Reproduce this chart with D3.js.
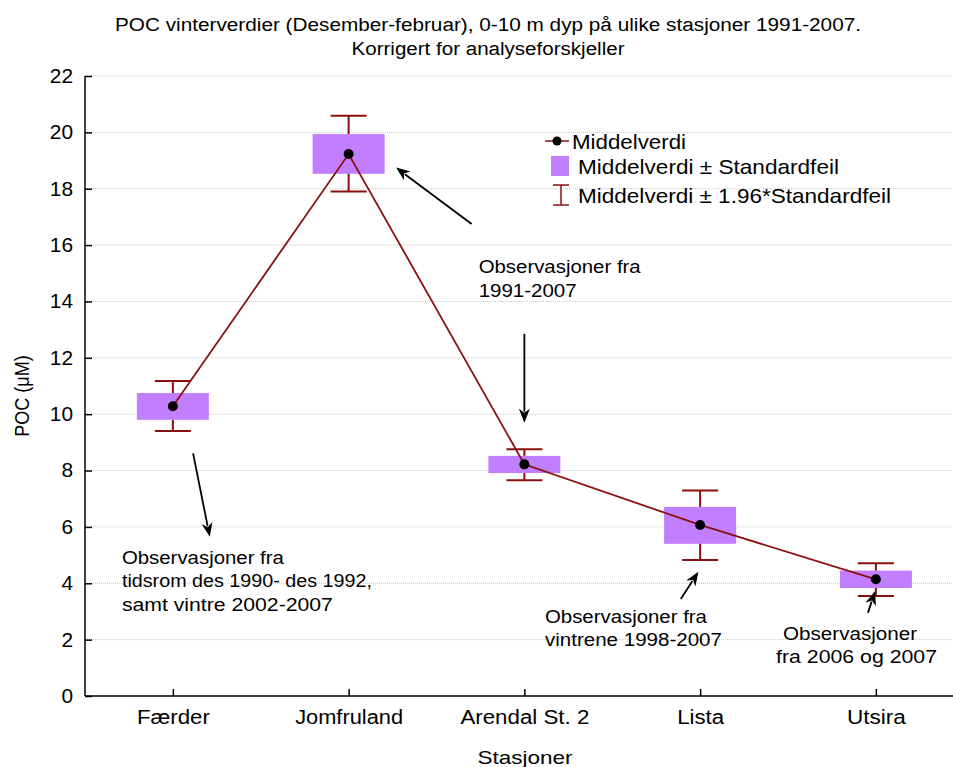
<!DOCTYPE html>
<html><head><meta charset="utf-8">
<script src="https://cdn.jsdelivr.net/npm/d3@7"></script>
<style>
body{margin:0;background:#fff;}
text{font-family:"Liberation Sans",Arial,sans-serif;fill:#000;}
</style></head>
<body><svg id="c" width="953" height="767"></svg>
<script>
const stations = ["Færder","Jomfruland","Arendal St. 2","Lista","Utsira"];
const means   = [10.28, 19.23, 8.22, 6.07, 4.14];
const seLow   = [9.80, 18.53, 7.91, 5.40, 3.83];
const seHigh  = [10.75, 19.94, 8.52, 6.71, 4.45];
const ciLow   = [9.40, 17.90, 7.66, 4.83, 3.55];
const ciHigh  = [11.18, 20.59, 8.76, 7.29, 4.71];
const yTicks  = [0,2,4,6,8,10,12,14,16,18,20,22];
const stationLabelWidths = [73, 108, 129, 47, 59];

// annotations in data coords (x as station index, y as value); w = rendered widths
const notes = [
  {lines:["Observasjoner fra","1991-2007"], w:[162,98], x:1.74, y:15.0},
  {lines:["Observasjoner fra","tidsrom des 1990- des 1992,","samt vintre 2002-2007"], w:[162,250,211], x:-0.29, y:4.7},
  {lines:["Observasjoner fra","vintrene 1998-2007"], w:[162,177], x:2.117, y:2.6},
  {lines:["Observasjoner","fra 2006 og 2007"], w:[134,161], x:3.432, y:2.0, dx:[7,0]}
];
const arrows = [
  {x1:1.70, y1:16.75, x2:1.27, y2:18.75},
  {x1:2.00, y1:12.85, x2:2.00, y2:9.70},
  {x1:0.115, y1:8.61, x2:0.21, y2:5.65},
  {x1:2.89, y1:3.44, x2:2.99, y2:4.41},
  {x1:3.955, y1:2.95, x2:3.995, y2:3.72}
];

const svg = d3.select("#c");
const pLeft = 85, pTop = 76, pBottom = 696, step = 175.75;
const x = d3.scaleLinear().domain([0,1]).range([pLeft+step/2, pLeft+step*1.5]);
const y = d3.scaleLinear().domain([0,22]).range([pBottom, pTop]);

function fit(sel, w){ sel.attr("textLength", w).attr("lengthAdjust","spacingAndGlyphs"); return sel; }

// gridlines
svg.append("g").selectAll("line").data(yTicks.filter(d=>d>0)).join("line")
  .attr("x1",pLeft).attr("x2",953).attr("y1",d=>y(d)).attr("y2",d=>y(d))
  .attr("stroke","#c8c8c8").attr("stroke-width",1).attr("stroke-dasharray","1,1");

// title
fit(svg.append("text").attr("x",488).attr("y",31).attr("text-anchor","middle").style("font-size","18px")
  .text("POC vinterverdier (Desember-februar), 0-10 m dyp på ulike stasjoner 1991-2007."), 746);
fit(svg.append("text").attr("x",488).attr("y",55).attr("text-anchor","middle").style("font-size","18px")
  .text("Korrigert for analyseforskjeller"), 273);

// axes
const ya = d3.axisLeft(y).tickValues(yTicks).tickSize(-7).tickPadding(12);
const gy = svg.append("g").attr("transform",`translate(${pLeft},0)`).call(ya);
gy.select(".domain").attr("stroke","#000").attr("stroke-width",1.5).attr("d",`M0,${pTop}V${pBottom}`);
gy.selectAll(".tick line").attr("stroke","#000").attr("stroke-width",1.5);
gy.selectAll(".tick text").style("font-size","20px").style("font-family","Liberation Sans, Arial, sans-serif")
  .attr("textLength",d=>String(d).length*11.6).attr("lengthAdjust","spacingAndGlyphs");

const xa = d3.axisBottom(x).tickValues(d3.range(stations.length)).tickFormat(i=>stations[i]).tickSize(-7).tickPadding(14);
const gx = svg.append("g").attr("transform",`translate(0,${pBottom})`).call(xa);
gx.select(".domain").attr("stroke","#000").attr("stroke-width",1.5).attr("d",`M${pLeft},0H953`);
gx.selectAll(".tick line").attr("stroke","#000").attr("stroke-width",1.5);
gx.selectAll(".tick text").style("font-size","19.5px").style("font-family","Liberation Sans, Arial, sans-serif")
  .attr("textLength",i=>stationLabelWidths[i]).attr("lengthAdjust","spacingAndGlyphs");

svg.append("text").attr("transform","translate(29,396) scale(1.15,1) rotate(-90)").attr("text-anchor","middle")
  .style("font-size","18px").text("POC (μM)");
fit(svg.append("text").attr("x",525).attr("y",764).attr("text-anchor","middle").style("font-size","19px").text("Stasjoner"), 95);

const purple = "#c17eff", red = "#8b0f0f";
const idx = d3.range(stations.length);
// boxes
svg.append("g").selectAll("rect").data(idx).join("rect")
  .attr("x",i=>x(i)-36).attr("width",72)
  .attr("y",i=>y(seHigh[i])).attr("height",i=>y(seLow[i])-y(seHigh[i]))
  .attr("fill",purple);
// whiskers
const wg = svg.append("g").attr("stroke",red).attr("stroke-width",2);
idx.forEach(i=>{
  wg.append("line").attr("x1",x(i)).attr("x2",x(i)).attr("y1",y(ciHigh[i])).attr("y2",y(seHigh[i]));
  wg.append("line").attr("x1",x(i)).attr("x2",x(i)).attr("y1",y(seLow[i])).attr("y2",y(ciLow[i]));
  wg.append("line").attr("x1",x(i)-18).attr("x2",x(i)+18).attr("y1",y(ciHigh[i])).attr("y2",y(ciHigh[i]));
  wg.append("line").attr("x1",x(i)-18).attr("x2",x(i)+18).attr("y1",y(ciLow[i])).attr("y2",y(ciLow[i]));
});
// mean line
svg.append("path").datum(idx).attr("fill","none").attr("stroke",red).attr("stroke-width",1.8)
  .attr("d",d3.line().x(i=>x(i)).y(i=>y(means[i])));
svg.append("g").selectAll("circle").data(idx).join("circle")
  .attr("cx",i=>x(i)).attr("cy",i=>y(means[i])).attr("r",5).attr("fill","#000");

// legend
const lg = svg.append("g");
lg.append("line").attr("x1",545).attr("x2",569).attr("y1",141).attr("y2",141).attr("stroke",red).attr("stroke-width",1.5);
lg.append("circle").attr("cx",557).attr("cy",141).attr("r",4.5).attr("fill","#000");
fit(lg.append("text").attr("x",572).attr("y",148.5).style("font-size","21px").text("Middelverdi"), 114);
lg.append("rect").attr("x",551).attr("y",156).attr("width",18).attr("height",20).attr("fill",purple);
fit(lg.append("text").attr("x",578).attr("y",174).style("font-size","21px").text("Middelverdi ± Standardfeil"), 261);
lg.append("g").attr("stroke",red).attr("stroke-width",1.5).call(g=>{
  g.append("line").attr("x1",553).attr("x2",569).attr("y1",185).attr("y2",185);
  g.append("line").attr("x1",553).attr("x2",569).attr("y1",205).attr("y2",205);
  g.append("line").attr("x1",561).attr("x2",561).attr("y1",185).attr("y2",205);
});
fit(lg.append("text").attr("x",578).attr("y",203).style("font-size","21px").text("Middelverdi ± 1.96*Standardfeil"), 313);

// annotations
notes.forEach(n=>{
  n.lines.forEach((l,k)=>{
    const xx = x(n.x) + (n.dx ? n.dx[k] : 0);
    fit(svg.append("text").attr("x",xx).attr("y",y(n.y)+k*23.5).style("font-size","17.5px").text(l), n.w[k]);
  });
});
arrows.forEach(a=>{
  const x1=x(a.x1), y1=y(a.y1), x2=x(a.x2), y2=y(a.y2);
  const ang=Math.atan2(y2-y1,x2-x1), L=14, W=5.5;
  const bx=x2-L*Math.cos(ang), by=y2-L*Math.sin(ang);
  svg.append("line").attr("x1",x1).attr("y1",y1).attr("x2",bx+3*Math.cos(ang)).attr("y2",by+3*Math.sin(ang))
    .attr("stroke","#000").attr("stroke-width",1.8);
  const p1=[bx+W*Math.sin(ang), by-W*Math.cos(ang)], p2=[bx-W*Math.sin(ang), by+W*Math.cos(ang)];
  const nb=[x2-L*0.7*Math.cos(ang), y2-L*0.7*Math.sin(ang)];
  svg.append("path").attr("d",`M${x2},${y2}L${p1}L${nb}L${p2}Z`).attr("fill","#000");
});
</script></body></html>
